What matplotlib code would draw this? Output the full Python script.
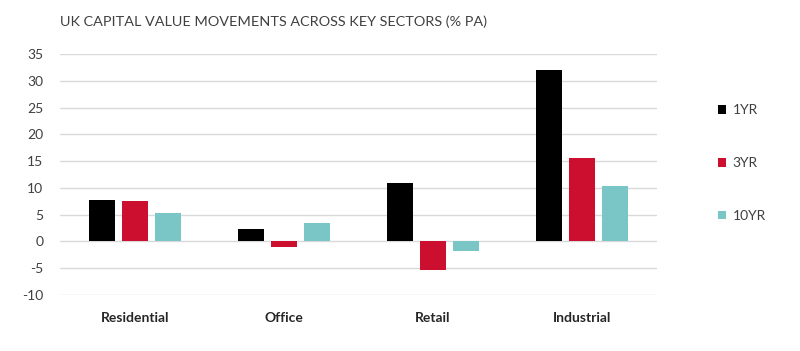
import matplotlib
matplotlib.use("Agg")
import matplotlib.pyplot as plt
import numpy as np

plt.rcParams['font.family'] = ['Lato', 'DejaVu Sans']

categories = ["Residential", "Office", "Retail", "Industrial"]
series_names = ["1YR", "3YR", "10YR"]
yr1 = [7.7, 2.3, 10.9, 32.0]
yr3 = [7.5, -1.1, -5.4, 15.6]
yr10 = [5.3, 3.5, -1.7, 10.4]
colors = ["#000000", "#cc0f2f", "#7ac6c6"]
yticks = [-10, -5, 0, 5, 10, 15, 20, 25, 30, 35]

fig = plt.figure(figsize=(8.0, 3.51), dpi=100)
ax = fig.add_axes([60/800, 1 - 295/351, 597/800, 241/351])

x = np.arange(len(categories))
w = 0.175
step = 0.221
for i, (vals, name, c) in enumerate(zip([yr1, yr3, yr10], series_names, colors)):
    ax.bar(x + (i - 1) * step, vals, width=w, color=c, label=name, zorder=3)

ax.set_xlim(-0.5, len(categories) - 0.5)
ax.set_ylim(-10, 35)
ax.set_yticks(yticks)
ax.set_yticklabels([str(t) for t in yticks], fontsize=10, color="#404040")
ax.set_xticks(x)
ax.set_xticklabels(categories, fontsize=10, fontweight="bold", color="#262626")
ax.tick_params(axis="both", length=0)
ax.tick_params(axis="y", pad=12)
ax.tick_params(axis="x", pad=12)
ax.grid(axis="y", color="#d9d9d9", linewidth=1, zorder=0)
for s in ax.spines.values():
    s.set_visible(False)

fig.text(60/800, 1 - 22/351, "UK CAPITAL VALUE MOVEMENTS ACROSS KEY SECTORS (% PA)",
         fontsize=10.4, color="#404040", va="center", ha="left")

leg = fig.legend(loc="center left", bbox_to_anchor=(705/800, 1 - 163/351), frameon=False,
                 fontsize=10, labelspacing=2.95, handlelength=0.6, handleheight=0.6,
                 handletextpad=0.5)
for t in leg.get_texts():
    t.set_color("#404040")

fig.savefig("out.png", dpi=100)
